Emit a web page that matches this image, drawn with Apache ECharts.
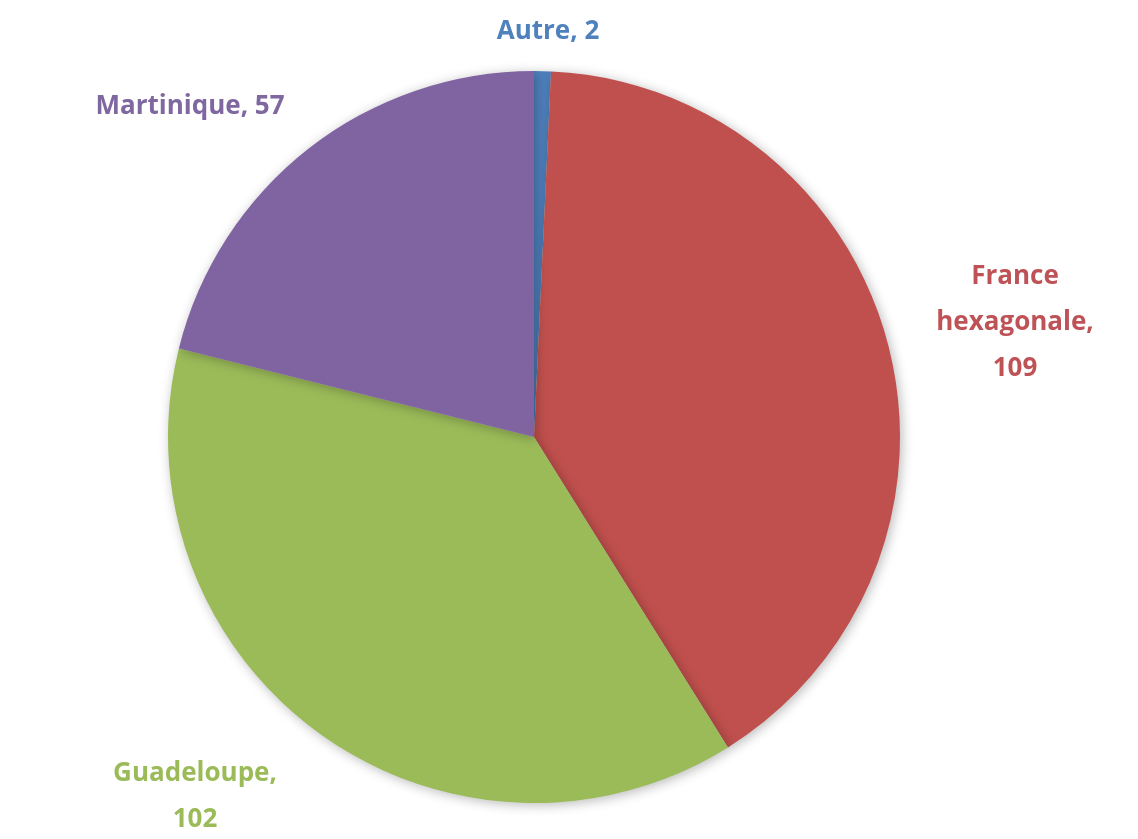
<!DOCTYPE html>
<html>
<head>
<meta charset="utf-8">
<script src="https://cdn.jsdelivr.net/npm/echarts@6/dist/echarts.min.js"></script>
<style>
*{margin:0;padding:0;}
html,body{background:#fff;}
#pie{width:1138px;height:839px;}
</style>
</head>
<body>
<div id="pie"></div>
<script>
// valeurs
var regions = ['Autre', 'France hexagonale', 'Guadeloupe', 'Martinique'];
var effectifs = [2, 109, 102, 57];
var couleurs = ['#4F81BD', '#C0504D', '#9BBB59', '#8064A2'];
var couleursTexte = ['#4F81BD', '#BE5256', '#9BBB59', '#7F67A0'];
var labelTexte = ['Autre, 2', 'France\nhexagonale,\n109', 'Guadeloupe,\n102', 'Martinique, 57'];

// emplacement des étiquettes (centre)
var labelSpots = [[548, 32], [1015, 323], [195, 797], [190, 107]];

var chart = echarts.init(document.getElementById('pie'));
var option = {
  animation: false,
  series: [
    {
      type: 'pie',
      center: [534, 437],
      radius: [0, 366],
      startAngle: 90,
      clockwise: true,
      itemStyle: {
        borderWidth: 0,
        shadowBlur: 12,
        shadowColor: 'rgba(0,0,0,0.28)',
        shadowOffsetX: 2,
        shadowOffsetY: 2
      },
      label: {
        show: true,
        position: 'outside',
        fontFamily: 'Open Sans',
        fontWeight: 'bold',
        fontSize: 26,
        lineHeight: 46,
        align: 'center',
        formatter: function (p) { return labelTexte[p.dataIndex]; }
      },
      labelLine: {show: false},
      labelLayout: function (p) {
        var s = labelSpots[p.dataIndex];
        return {x: s[0], y: s[1], align: 'center', verticalAlign: 'middle'};
      },
      data: regions.map(function (r, i) {
        return {
          name: r,
          value: effectifs[i],
          itemStyle: {color: couleurs[i]},
          label: {color: couleursTexte[i]}
        };
      })
    }
  ]
};
chart.setOption(option);
</script>
</body>
</html>
